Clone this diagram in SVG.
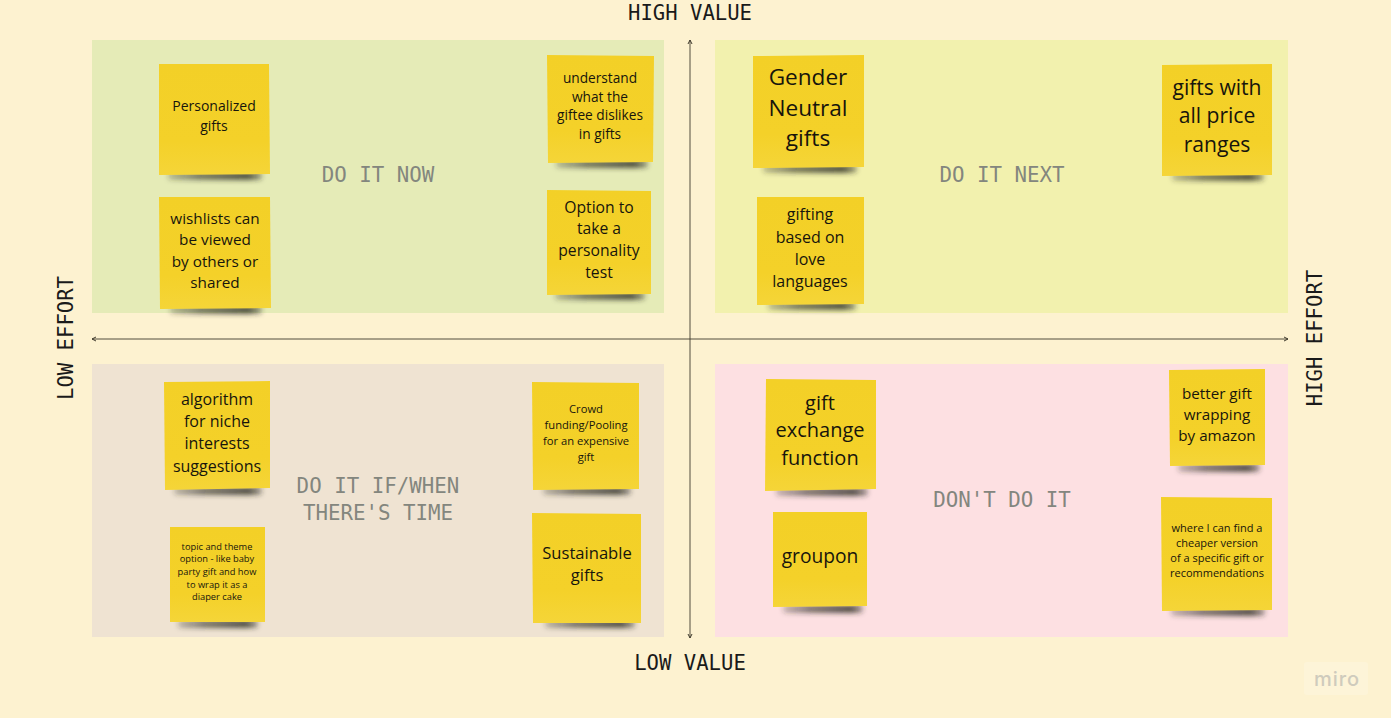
<svg xmlns="http://www.w3.org/2000/svg" width="1391" height="718" viewBox="0 0 1391 718">
<defs>
<filter id="sb" x="-20%" y="-100%" width="140%" height="300%"><feGaussianBlur stdDeviation="2.4"/></filter>
<linearGradient id="ng" x1="0" y1="0" x2="0" y2="1"><stop offset="0" stop-color="#f3d027"/><stop offset="0.7" stop-color="#f4d129"/><stop offset="1" stop-color="#f5d538"/></linearGradient>
<linearGradient id="sg" x1="0" y1="0" x2="1" y2="0"><stop offset="0" stop-color="#2a2a20" stop-opacity=".25"/><stop offset="0.35" stop-color="#2a2a20" stop-opacity=".6"/><stop offset="0.85" stop-color="#2a2a20" stop-opacity=".8"/><stop offset="1" stop-color="#2a2a20" stop-opacity=".35"/></linearGradient>
<marker id="a" viewBox="0 0 6 6" refX="5.5" refY="3" markerWidth="6" markerHeight="6" markerUnits="userSpaceOnUse" orient="auto-start-reverse"><path d="M1.5 1L5.5 3L1.5 5" fill="none" stroke="#3f3a2c" stroke-width="1"/></marker>
</defs>
<style>
.ax{font-family:"DejaVu Sans Mono","Liberation Mono",monospace;font-size:20.6px;fill:#1a1a1a;text-anchor:middle}
.q{font-family:"DejaVu Sans Mono","Liberation Mono",monospace;font-size:20.8px;fill:#83867e;text-anchor:middle}
.n{font-family:"Open Sans","Noto Sans",sans-serif;fill:#17150c;text-anchor:middle}
.p{fill:url(#ng)}
.s{fill:url(#sg);filter:url(#sb)}
.l{stroke:#3f3a2c;stroke-width:.9;fill:none;marker-start:url(#a);marker-end:url(#a)}
</style>
<rect width="1391" height="718" fill="#fdf2d0"/>
<g id="quadrants">
<rect x="92" y="40" width="572" height="273" fill="#e5ebb7"/>
<rect x="715" y="40" width="573" height="273" fill="#f2f1ae"/>
<rect x="92" y="364" width="572" height="273" fill="#efe3d2"/>
<rect x="715" y="364" width="573" height="273" fill="#fde0e2"/>
</g>
<g id="connectors">
<path class="l" d="M690 638V40"/>
<path class="l" d="M92 339H1288"/>
</g>
<g id="axis-labels">
<text class="ax" x="690" y="20">HIGH VALUE</text>
<text class="ax" x="690" y="670">LOW VALUE</text>
<text class="ax" transform="translate(73 338) rotate(-90)">LOW EFFORT</text>
<text class="ax" transform="translate(1322 338) rotate(-90)">HIGH EFFORT</text>
</g>
<g id="quadrant-labels">
<text class="q" x="378" y="182">DO IT NOW</text>
<text class="q" x="1002" y="182">DO IT NEXT</text>
<text class="q" x="378" y="493">DO IT IF/WHEN</text>
<text class="q" x="378" y="520">THERE'S TIME</text>
<text class="q" x="1002" y="507">DON'T DO IT</text>
</g>
<g id="note-personalized"><rect class="s" x="168" y="172" width="94" height="8" rx="3"/><path class="p" d="M159 64H269L270 174L159 175Z"/><text class="n" font-size="14"><tspan x="214" y="111">Personalized</tspan><tspan x="214" y="131">gifts</tspan></text></g>
<g id="note-wishlists"><rect class="s" x="170" y="306" width="92" height="8" rx="3"/><path class="p" d="M159 197H270L271 308L160 309Z"/><text class="n" font-size="15.3"><tspan x="215" y="224">wishlists can</tspan><tspan x="215" y="245">be viewed</tspan><tspan x="215" y="267">by others or</tspan><tspan x="215" y="288">shared</tspan></text></g>
<g id="note-understand"><rect class="s" x="556" y="160" width="92" height="8" rx="3"/><path class="p" d="M547 55L654 56L653 162L548 163Z"/><text class="n" font-size="13.7"><tspan x="600" y="83">understand</tspan><tspan x="600" y="102">what the</tspan><tspan x="600" y="120">giftee dislikes</tspan><tspan x="600" y="139">in gifts</tspan></text></g>
<g id="note-personality"><rect class="s" x="555" y="292" width="90" height="8" rx="3"/><path class="p" d="M547 190L651 191V294L547 295Z"/><text class="n" font-size="15.7"><tspan x="599" y="213">Option to</tspan><tspan x="599" y="234">take a</tspan><tspan x="599" y="256">personality</tspan><tspan x="599" y="278">test</tspan></text></g>
<g id="note-gender"><rect class="s" x="763" y="165" width="94" height="8" rx="3"/><path class="p" d="M753 56L864 55V167L753 168Z"/><text class="n" font-size="22.6"><tspan x="808" y="85">Gender</tspan><tspan x="808" y="116">Neutral</tspan><tspan x="808" y="146">gifts</tspan></text></g>
<g id="note-love"><rect class="s" x="768" y="302" width="88" height="8" rx="3"/><path class="p" d="M757 197H864V304L757 305Z"/><text class="n" font-size="16"><tspan x="810" y="220">gifting</tspan><tspan x="810" y="243">based on</tspan><tspan x="810" y="265">love</tspan><tspan x="810" y="287">languages</tspan></text></g>
<g id="note-price"><rect class="s" x="1172" y="173" width="92" height="8" rx="3"/><path class="p" d="M1162 65L1272 64V175L1162 176Z"/><text class="n" font-size="21.1"><tspan x="1217" y="95">gifts with</tspan><tspan x="1217" y="123">all price</tspan><tspan x="1217" y="152">ranges</tspan></text></g>
<g id="note-algorithm"><rect class="s" x="174" y="487" width="88" height="8" rx="3"/><path class="p" d="M164 382L270 381V488L165 490Z"/><text class="n" font-size="16"><tspan x="217" y="405">algorithm</tspan><tspan x="217" y="427">for niche</tspan><tspan x="217" y="449">interests</tspan><tspan x="217" y="472">suggestions</tspan></text></g>
<g id="note-topic"><rect class="s" x="178" y="620" width="80" height="8" rx="3"/><path class="p" d="M170 527H265V622H170Z"/><text class="n" font-size="9.3"><tspan x="217" y="550">topic and theme</tspan><tspan x="217" y="562">option - like baby</tspan><tspan x="217" y="575">party gift and how</tspan><tspan x="217" y="588">to wrap it as a</tspan><tspan x="217" y="600">diaper cake</tspan></text></g>
<g id="note-crowd"><rect class="s" x="543" y="487" width="88" height="8" rx="3"/><path class="p" d="M532 382L639 383V489L533 490Z"/><text class="n" font-size="11.2"><tspan x="586" y="413">Crowd</tspan><tspan x="586" y="429">funding/Pooling</tspan><tspan x="586" y="445">for an expensive</tspan><tspan x="586" y="461">gift</tspan></text></g>
<g id="note-sustainable"><rect class="s" x="545" y="620" width="90" height="8" rx="3"/><path class="p" d="M532 513L641 514V623H533Z"/><text class="n" font-size="16.6"><tspan x="587" y="559">Sustainable</tspan><tspan x="587" y="581">gifts</tspan></text></g>
<g id="note-exchange"><rect class="s" x="776" y="488" width="92" height="8" rx="3"/><path class="p" d="M766 379L876 380V489L765 491Z"/><text class="n" font-size="20"><tspan x="820" y="410">gift</tspan><tspan x="820" y="437">exchange</tspan><tspan x="820" y="465">function</tspan></text></g>
<g id="note-groupon"><rect class="s" x="783" y="605" width="80" height="8" rx="3"/><path class="p" d="M773 512H867V606L773 607Z"/><text class="n" font-size="19.2" x="820" y="563">groupon</text></g>
<g id="note-wrapping"><rect class="s" x="1178" y="464" width="82" height="8" rx="3"/><path class="p" d="M1169 370L1265 369V465L1170 466Z"/><text class="n" font-size="15.2"><tspan x="1217" y="399">better gift</tspan><tspan x="1217" y="420">wrapping</tspan><tspan x="1217" y="441">by amazon</tspan></text></g>
<g id="note-cheaper"><rect class="s" x="1171" y="608" width="94" height="8" rx="3"/><path class="p" d="M1161 497L1272 498V610L1162 611Z"/><text class="n" font-size="11"><tspan x="1217" y="532">where I can find a</tspan><tspan x="1217" y="547">cheaper version</tspan><tspan x="1217" y="562">of a specific gift or</tspan><tspan x="1217" y="577">recommendations</tspan></text></g>
<g id="miro-logo"><rect x="1304" y="662" width="64" height="33" rx="3" fill="#fdf4d8"/><text x="1337" y="686" font-family="Inter,'Open Sans',sans-serif" font-size="20" font-weight="500" letter-spacing="1" fill="#cfcbbd" text-anchor="middle">miro</text></g>
</svg>
